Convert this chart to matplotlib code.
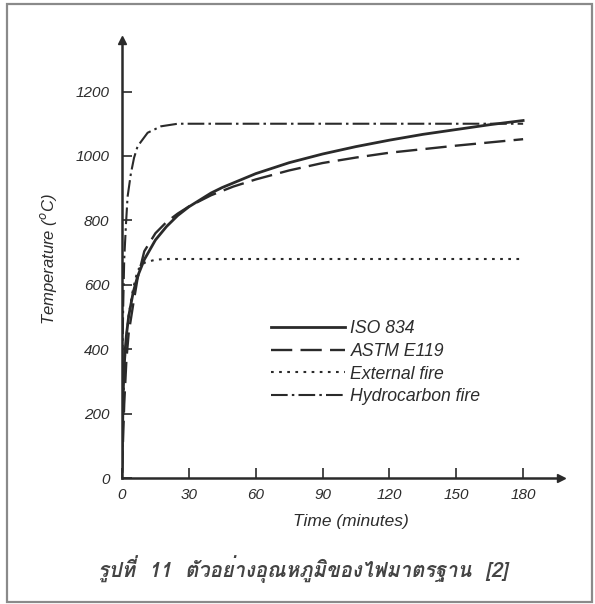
import matplotlib
matplotlib.use('Agg')
import matplotlib.pyplot as plt
from matplotlib import font_manager
from matplotlib.ft2font import FT2Font
from matplotlib.patches import Rectangle

# values (minutes, deg C)
iso_t = [0, 0.5, 1, 1.5, 2, 3, 5, 7, 10, 15, 20, 25, 30, 40, 45, 60, 75, 90, 105, 120, 135, 150, 165, 180]
iso_T = [20, 261, 349, 404, 445, 502, 576, 626, 678, 739, 781, 815, 842, 885, 902, 945, 979, 1006, 1029, 1049, 1067, 1082, 1097, 1110]

astm_t = [0, 1, 2, 3, 5, 7, 10, 15, 20, 25, 30, 40, 50, 60, 75, 90, 105, 120, 150, 180]
astm_T = [20, 230, 370, 450, 538, 620, 704, 760, 795, 821, 843, 878, 905, 927, 955, 978, 995, 1010, 1032, 1052]

ext_t = [0, 1, 2, 3, 5, 7, 10, 15, 20, 180]
ext_T = [20, 346, 441, 506, 588, 645, 668, 678, 680, 680]

hc_t = [0, 0.25, 0.5, 1, 1.8, 2.5, 4, 5.4, 7, 11.5, 17.5, 25, 30, 180]
hc_T = [20, 373, 520, 680, 790, 873, 946, 994, 1030, 1072, 1092, 1100, 1100, 1100]

x_ticks = [0, 30, 60, 90, 120, 150, 180]
y_ticks = [0, 200, 400, 600, 800, 1000, 1200]

caption = 'รูปที่  11  ตัวอย่างอุณหภูมิของไฟมาตรฐาน  [2]'


def find_thai_font():
    for f in font_manager.fontManager.ttflist:
        try:
            if ord('ร') in FT2Font(f.fname).get_charmap():
                return f.name
        except Exception:
            pass
    return 'DejaVu Sans'


thai_font = find_thai_font()
ink = '#2a2a2a'
txt = '#2c2c2c'

plt.rcParams['font.family'] = ['Liberation Sans', 'DejaVu Sans']

fig = plt.figure(figsize=(5.95, 6.04), dpi=100)
W, H = 595, 604

# frame of the scanned page
fig.patches.append(Rectangle((7 / W, 1 - 602 / H), 585 / W, 598 / H, transform=fig.transFigure,
                             fill=False, edgecolor='#8a8a8a', linewidth=1.6))

ax = fig.add_axes([122 / W, 1 - 478 / H, (561 - 122) / W, (478 - 40) / H])

ax.plot(iso_t, iso_T, color=ink, lw=2.0, label='ISO 834')
ax.plot(astm_t, astm_T, color=ink, lw=1.7, dashes=(9, 3.5), label='ASTM E119')
ax.plot(ext_t, ext_T, color=ink, lw=1.5, dashes=(1.3, 2.6), label='External fire')
ax.plot(hc_t, hc_T, color=ink, lw=1.5, dashes=(8, 2, 1.2, 2), label='Hydrocarbon fire')

ax.set_xlim(0, 197)
ax.set_ylim(0, 1360)
ax.set_xticks(x_ticks)
ax.set_yticks(y_ticks)
ax.spines[['top', 'right']].set_visible(False)
for s in ['left', 'bottom']:
    ax.spines[s].set_linewidth(1.8)
    ax.spines[s].set_color(ink)
ax.tick_params(direction='in', length=7, width=1.2, color=ink, labelcolor=txt, labelsize=11)
ax.tick_params(axis='y', pad=9)
ax.tick_params(axis='x', pad=7)
for lab in ax.get_xticklabels() + ax.get_yticklabels():
    lab.set_fontstyle('italic')

# arrow heads
ax.plot(0, 1, marker='^', color=ink, ms=6, transform=ax.transAxes, clip_on=False)
ax.plot(1, 0, marker='>', color=ink, ms=6, transform=ax.transAxes, clip_on=False)

ax.set_xlabel('Time (minutes)', fontsize=12.5, fontstyle='italic', color=txt)
ax.xaxis.set_label_coords((351 - 122) / (561 - 122), -(514 - 478) / (478 - 40))
ax.set_ylabel('Temperature ($^o$C)', fontsize=12, fontstyle='italic', color=txt)
ax.yaxis.set_label_coords(-(122 - 59) / (561 - 122), 0.5)

leg = ax.legend(loc='upper left', bbox_to_anchor=((271 - 122) / (561 - 122), (478 - 320) / (478 - 40)),
                frameon=False, handlelength=4.2, handletextpad=0.3, labelspacing=0.33,
                prop={'size': 12.7, 'style': 'italic'}, borderpad=0, borderaxespad=0)
for t in leg.get_texts():
    t.set_color(txt)

fig.text(303 / W, 1 - 569 / H, caption, ha='center', va='center', fontsize=14.6,
         family=[thai_font, 'DejaVu Sans'], fontstyle='italic', fontweight='bold', color='#444444')

fig.savefig('out.png', dpi=100)
